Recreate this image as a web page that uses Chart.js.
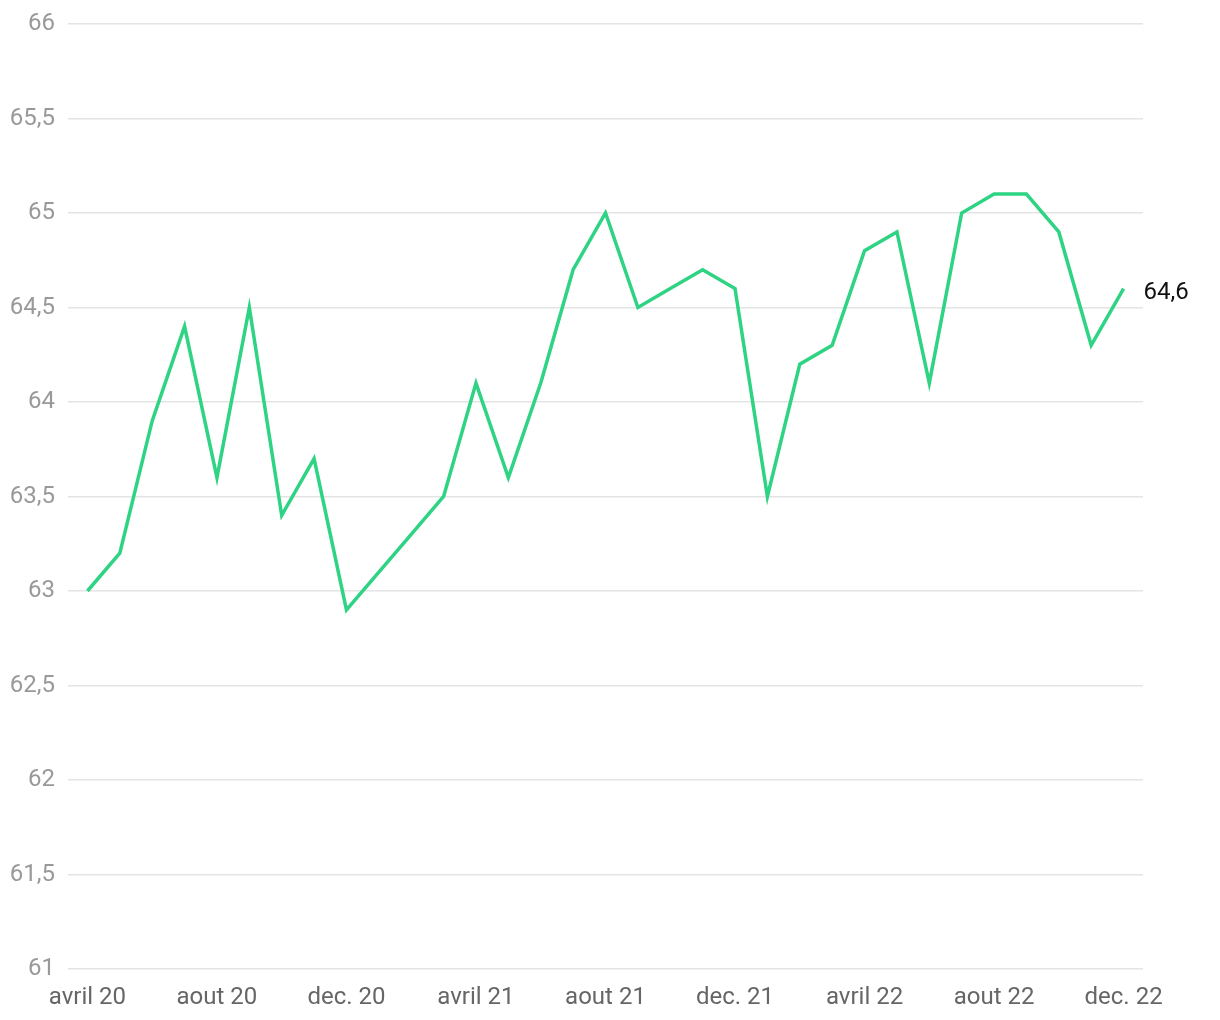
<!DOCTYPE html>
<html>
<head>
<meta charset="utf-8">
<script src="https://cdn.jsdelivr.net/npm/chart.js@4"></script>
<style>
  body { margin: 0; background: #fff; }
  #wrap { width: 1220px; height: 1020px; }
</style>
</head>
<body>
<div id="wrap"><canvas id="lineChart" width="1220" height="1020"></canvas></div>
<script>
const months = [
  'avril 20', 'mai 20', 'juin 20', 'juil. 20', 'aout 20', 'sept. 20', 'oct. 20', 'nov. 20', 'dec. 20',
  'janv. 21', 'fevr. 21', 'mars 21', 'avril 21', 'mai 21', 'juin 21', 'juil. 21', 'aout 21', 'sept. 21', 'oct. 21', 'nov. 21', 'dec. 21',
  'janv. 22', 'fevr. 22', 'mars 22', 'avril 22', 'mai 22', 'juin 22', 'juil. 22', 'aout 22', 'sept. 22', 'oct. 22', 'nov. 22', 'dec. 22'
];
const values = [
  63.0, 63.2, 63.9, 64.4, 63.6, 64.5, 63.4, 63.7, 62.9,
  63.1, 63.3, 63.5, 64.1, 63.6, 64.1, 64.7, 65.0, 64.5, 64.6, 64.7, 64.6,
  63.5, 64.2, 64.3, 64.8, 64.9, 64.1, 65.0, 65.1, 65.1, 64.9, 64.3, 64.6
];
const tickEvery = 4; // one x label every 4 months
const yMin = 61;
const yMax = 66;
const yStep = 0.5;

const lineColor = 'rgb(46, 211, 131)';
const fontSize = 24;

function frNumber(v) {
  return String(v).replace('.', ',');
}

// draws the last value next to the end of the line
const endLabel = {
  id: 'endLabel',
  afterDatasetsDraw(chart) {
    const meta = chart.getDatasetMeta(0);
    const last = meta.data[meta.data.length - 1];
    if (!last) return;
    const ctx = chart.ctx;
    ctx.save();
    ctx.font = fontSize + 'px Roboto';
    ctx.fillStyle = '#111';
    ctx.textAlign = 'left';
    ctx.textBaseline = 'middle';
    ctx.fillText(frNumber(values[values.length - 1]), last.x + 20, last.y + 4);
    ctx.restore();
  }
};

const points = values.map((v, i) => ({ x: i, y: v }));

const ctx = document.getElementById('lineChart').getContext('2d');
const myChart = new Chart(ctx, {
  type: 'line',
  data: {
    datasets: [{
      data: points,
      borderColor: lineColor,
      borderWidth: 3.5,
      pointRadius: 0,
      fill: false,
      tension: 0
    }]
  },
  options: {
    responsive: false,
    animation: false,
    layout: {
      padding: { top: 24, right: 77, left: 0, bottom: 0 }
    },
    plugins: {
      legend: { display: false },
      tooltip: { enabled: false }
    },
    scales: {
      x: {
        type: 'linear',
        min: -0.6,
        max: months.length - 1 + 0.6,
        grid: { display: false, drawTicks: false },
        border: { display: false },
        afterBuildTicks(scale) {
          const t = [];
          for (let i = 0; i < months.length; i += tickEvery) t.push({ value: i });
          scale.ticks = t;
        },
        afterFit(scale) { scale.height = 51; },
        ticks: {
          autoSkip: false,
          maxRotation: 0,
          padding: 15,
          color: '#666',
          font: { family: 'Roboto', size: fontSize },
          callback: (v) => months[v] || ''
        }
      },
      y: {
        min: yMin,
        max: yMax,
        grid: { color: '#e4e4e4', lineWidth: 1.5, drawTicks: false },
        border: { display: false },
        afterFit(scale) {
          scale.width = 68;
          scale.paddingTop = 0;
          scale.paddingBottom = 0;
        },
        ticks: {
          stepSize: yStep,
          padding: 13,
          color: '#999',
          font: { family: 'Roboto', size: fontSize },
          callback: (v) => frNumber(v)
        }
      }
    }
  },
  plugins: [endLabel]
});
</script>
</body>
</html>
